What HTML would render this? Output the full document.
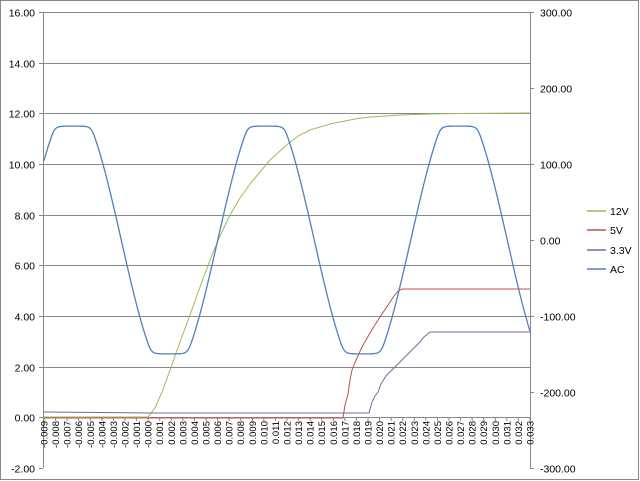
<!DOCTYPE html>
<html><head><meta charset="utf-8"><style>
html,body{margin:0;padding:0;background:#fff;}
svg{display:block;font-family:"Liberation Sans",sans-serif;font-size:10px;}
</style></head><body>
<svg id="s" width="640" height="481" xmlns="http://www.w3.org/2000/svg">
<rect x="0.5" y="0.5" width="638" height="479" fill="#fff" stroke="#888"/>
<g id="grid" stroke="#888" stroke-width="1"></g>
<g id="lbl" fill="#000"></g>
<polyline fill="none" stroke="#9bbb59" stroke-width="1" points="44,417 148,417 155,408 162,392 170,370 180,342 190,315 200,287 210,260 220,236 230,215 240,198 250,184 260,172 270,160 280,151 290,142 300,135 310,130 320,127 330,124 340,122 355,119 370,117 385,116 400,115 430,114 460,113.5 530,113"/>
<polyline fill="none" stroke="#c0504d" stroke-width="1" points="44,418 343,418 345,405 348,394 350,380 352,370 356,360 362,347 370,333 378,320 386,308 394,296 398,291 402,289 420,289 530,289"/>
<polyline fill="none" stroke="#8064a2" stroke-width="1" points="44,412 150,413 250,413 300,413 369,413 372,402 375,396 378,392 381,384 386,376 394,368 402,360 410,352 418,344 424,337 430,332 450,332 530,332"/>
<polyline id="ac" fill="none" stroke="#4f81bd" stroke-width="1.3"/>
<g stroke-width="1.5">
<line x1="587" y1="211" x2="606" y2="211" stroke="#9bbb59"/>
<line x1="587" y1="230" x2="606" y2="230" stroke="#c0504d"/>
<line x1="587" y1="250" x2="606" y2="250" stroke="#8064a2"/>
<line x1="587" y1="269" x2="606" y2="269" stroke="#4f81bd"/>
</g>
<g font-size="10.5">
<text x="610" y="215">12V</text><text x="610" y="234">5V</text>
<text x="610" y="254">3.3V</text><text x="610" y="273">AC</text>
</g>
</svg>
<script>
(function(){
var ns="http://www.w3.org/2000/svg";
function el(p,t,a,txt){var e=document.createElementNS(ns,t);for(var k in a)e.setAttribute(k,a[k]);if(txt!=null)e.textContent=txt;document.getElementById(p).appendChild(e);return e;}
var T=12,B=468,L=43,R=530;
function yl(v){return T+(16-v)/18*(B-T);}
for(var v=-2;v<=16;v+=2){var y=Math.round(yl(v))+0.5;
 if(v>0) el("grid","line",{x1:L,y1:y,x2:R,y2:y});
 el("grid","line",{x1:L-4,y1:y,x2:L,y2:y});
 el("lbl","text",{x:L-8,y:y+4,"text-anchor":"end","font-size":"10.5"},v.toFixed(2));}
el("grid","line",{x1:L+0.5,y1:T,x2:L+0.5,y2:B});
el("grid","line",{x1:R+0.5,y1:T,x2:R+0.5,y2:B});
el("grid","line",{x1:L,y1:417.5,x2:R,y2:417.5});
for(var i=0;i<7;i++){var v2=300-i*100;var y2=T+i*(B-T)/6;y2=Math.round(y2)+0.5;
 el("grid","line",{x1:R,y1:y2,x2:R+4,y2:y2});
 el("lbl","text",{x:R+10,y:y2+4,"font-size":"10.5"},v2.toFixed(2));}
for(var j=0;j<=42;j++){var x=44+j*(486/42);var t=(-9+j)/1000;var s=(t<0||j==9?"-":"")+Math.abs(t).toFixed(3);
 el("grid","line",{x1:x,y1:417,x2:x,y2:421});
 el("lbl","text",{transform:"translate("+(x+3.5)+",421) rotate(-90)","text-anchor":"end","font-size":"9.5"},s);}
var pts=[];
for(var x=44;x<=530;x+=1){var c=Math.cos(2*Math.PI*(x-73)/193);
 var v=178*c; var a=Math.abs(v); if(a>135){a=135+15*Math.tanh((a-135)/15);} v=v<0?-a:a;
 var y=240-v*0.76;pts.push(x+","+y.toFixed(1));}
document.getElementById("ac").setAttribute("points",pts.join(" "));
})();
</script>
</body></html>
